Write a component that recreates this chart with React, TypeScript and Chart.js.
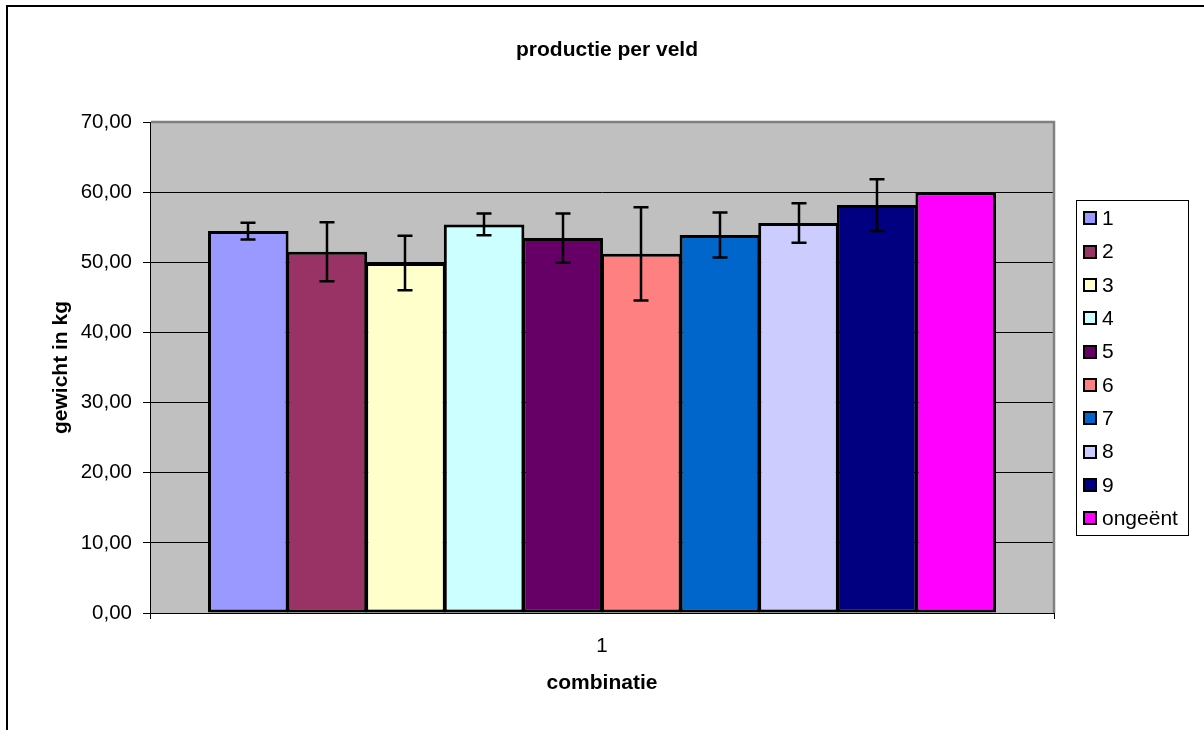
import { useEffect, useRef } from "react";
import { Chart, registerables } from "chart.js";

Chart.register(...registerables);

const chartTitle = "productie per veld";
const xAxisTitle = "combinatie";
const yAxisTitle = "gewicht in kg";
const categories = ["1"];
const seriesLabels = ["1", "2", "3", "4", "5", "6", "7", "8", "9", "ongeënt"];
const seriesValues = [54.45, 51.5, 49.9, 55.4, 53.45, 51.2, 53.9, 55.6, 58.15, 60.0];
const seriesErrors = [1.2, 4.2, 3.9, 1.55, 3.5, 6.65, 3.2, 2.8, 3.7, 0];
const seriesColors = [
  "#9999FF",
  "#993366",
  "#FFFFCC",
  "#CCFFFF",
  "#660066",
  "#FF8080",
  "#0066CC",
  "#CCCCFF",
  "#000080",
  "#FF00FF",
];
const yMin = 0;
const yMax = 70;
const yStep = 10;

const FONT = "'Liberation Sans', Arial, sans-serif";

const excelPlugin = {
  id: "excelLook",
  beforeDraw(chart: any) {
    const { ctx, chartArea } = chart;
    ctx.save();
    ctx.fillStyle = "#C0C0C0";
    ctx.fillRect(chartArea.left, chartArea.top, chartArea.right - chartArea.left, chartArea.bottom - chartArea.top);
    ctx.strokeStyle = "#000";
    ctx.lineWidth = 2;
    ctx.beginPath();
    ctx.moveTo(7, 730);
    ctx.lineTo(7, 6);
    ctx.lineTo(1204, 6);
    ctx.stroke();
    ctx.fillStyle = "#000";
    ctx.font = `bold 21px ${FONT}`;
    ctx.textAlign = "center";
    ctx.textBaseline = "middle";
    ctx.fillText(chartTitle, 607, 50);
    ctx.restore();
  },
  beforeDatasetsDraw(chart: any) {
    const { ctx, chartArea } = chart;
    ctx.save();
    ctx.strokeStyle = "#808080";
    ctx.lineWidth = 2.5;
    ctx.beginPath();
    ctx.moveTo(chartArea.left + 1, chartArea.top);
    ctx.lineTo(chartArea.right, chartArea.top);
    ctx.lineTo(chartArea.right, chartArea.bottom);
    ctx.stroke();
    ctx.restore();
  },
  afterDatasetsDraw(chart: any) {
    const { ctx } = chart;
    const yScale = chart.scales.y;
    ctx.save();
    ctx.strokeStyle = "#000";
    ctx.lineWidth = 2.5;
    chart.data.datasets.forEach((ds: any, i: number) => {
      const err = seriesErrors[i];
      if (!err) return;
      const meta = chart.getDatasetMeta(i);
      const bar = meta.data[0];
      if (!bar) return;
      const v = ds.data[0];
      const x = Math.round(bar.x);
      const yTop = yScale.getPixelForValue(v + err);
      const yBot = yScale.getPixelForValue(v - err);
      const cap = 7.5;
      ctx.beginPath();
      ctx.moveTo(x, yTop);
      ctx.lineTo(x, yBot);
      ctx.moveTo(x - cap, yTop);
      ctx.lineTo(x + cap, yTop);
      ctx.moveTo(x - cap, yBot);
      ctx.lineTo(x + cap, yBot);
      ctx.stroke();
    });
    const lx = 1076.5;
    const ly = 200.5;
    const lw = 112;
    const lh = 335;
    ctx.fillStyle = "#fff";
    ctx.fillRect(lx, ly, lw, lh);
    ctx.strokeStyle = "#000";
    ctx.lineWidth = 1;
    ctx.strokeRect(lx, ly, lw, lh);
    ctx.font = `21px ${FONT}`;
    ctx.textAlign = "left";
    ctx.textBaseline = "middle";
    chart.data.datasets.forEach((ds: any, i: number) => {
      const cy = 218.3 + i * 33.33;
      ctx.fillStyle = ds.backgroundColor;
      ctx.fillRect(1083, Math.round(cy - 7), 14, 14);
      ctx.strokeStyle = "#000";
      ctx.lineWidth = 2;
      ctx.strokeRect(1084, Math.round(cy - 7) + 1, 12, 12);
      ctx.fillStyle = "#000";
      ctx.fillText(ds.label, 1102, cy + 1);
    });
    ctx.restore();
  },
};

export default function App() {
  const canvasRef = useRef<HTMLCanvasElement | null>(null);

  useEffect(() => {
    const canvas = canvasRef.current;
    if (!canvas) return;
    const chart = new Chart(canvas, {
      type: "bar",
      data: {
        labels: categories,
        datasets: seriesLabels.map((label, i) => ({
          label,
          data: [seriesValues[i]],
          backgroundColor: seriesColors[i],
          borderColor: "#000",
          borderWidth: 3,
          borderSkipped: false,
          categoryPercentage: 0.8695,
          barPercentage: 1.025,
          grouped: true,
        })),
      },
      options: {
        responsive: false,
        animation: false,
        devicePixelRatio: 1,
        layout: { padding: { top: 122, right: 150, left: 0, bottom: 0 } },
        plugins: {
          legend: { display: false },
          title: { display: false },
          tooltip: { enabled: false },
        },
        scales: {
          x: {
            type: "category",
            offset: true,
            grid: {
              display: true,
              drawOnChartArea: false,
              drawTicks: true,
              tickLength: 6,
              color: "#000",
              offset: true,
            },
            border: { display: true, color: "#000", width: 1 },
            ticks: { color: "#000", font: { family: FONT, size: 20.5 }, padding: 15 },
            title: {
              display: true,
              text: xAxisTitle,
              color: "#000",
              font: { family: FONT, size: 21, weight: "bold" },
              padding: { top: 0, bottom: 34 },
            },
            afterFit: (scale: any) => {
              scale.height = 117;
            },
          },
          y: {
            min: yMin,
            max: yMax,
            ticks: {
              stepSize: yStep,
              color: "#000",
              font: { family: FONT, size: 20.5 },
              padding: 11,
              callback: (v: any) => Number(v).toFixed(2).replace(".", ","),
            },
            grid: {
              color: "#000",
              lineWidth: 1,
              drawTicks: true,
              tickLength: 7,
            },
            border: { display: true, color: "#000", width: 1 },
            title: {
              display: true,
              text: yAxisTitle,
              color: "#000",
              font: { family: FONT, size: 21, weight: "bold" },
              padding: { top: 48.4, bottom: 0 },
            },
            afterFit: (scale: any) => {
              scale.width = 150;
            },
          },
        },
      },
      plugins: [excelPlugin],
    });
    return () => chart.destroy();
  }, []);

  return (
    <div style={{ position: "fixed", left: 0, top: 0, width: 1204, height: 730, background: "#fff" }}>
      <canvas ref={canvasRef} width={1204} height={730} style={{ width: 1204, height: 730, display: "block" }} />
    </div>
  );
}
